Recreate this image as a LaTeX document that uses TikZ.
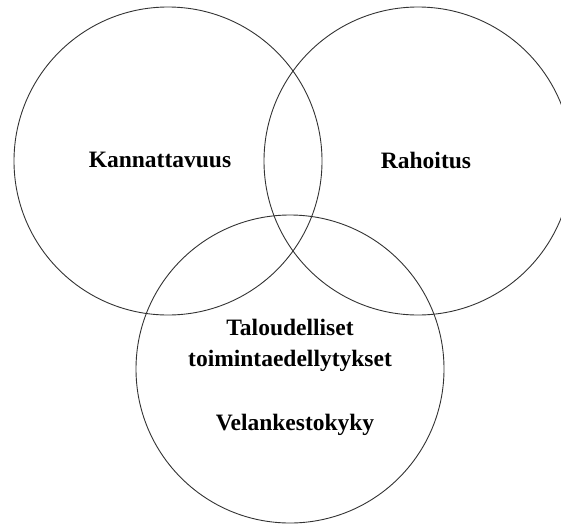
\documentclass[tikz,border=0pt]{standalone}
\usepackage{fontspec}
\setmainfont{Liberation Serif}
\begin{document}
\begin{tikzpicture}[x=1pt,y=-1pt,
  ring/.style={circle,draw=black!80,line width=0.9pt,minimum size=308pt,inner sep=0pt},
  lbl/.style={font=\fontsize{23.5}{31}\selectfont\bfseries,align=center,inner sep=0pt}]
\useasboundingbox (0,0) rectangle (561,525);
\clip (0,0) rectangle (561,525);
\node[ring] (left) at (168,161) {};
\node[ring] (right) at (418,161) {};
\node[ring] (bottom) at (290,369) {};
\node[lbl] (kann) at (160,160) {Kannattavuus};
\node[lbl] (raho) at (426,160) {Rahoitus};
\node[lbl] (talo) at (290,345) {Taloudelliset\\toimintaedellytykset};
\node[lbl] (velan) at (295,425) {Velankestokyky};
\end{tikzpicture}
\end{document}
